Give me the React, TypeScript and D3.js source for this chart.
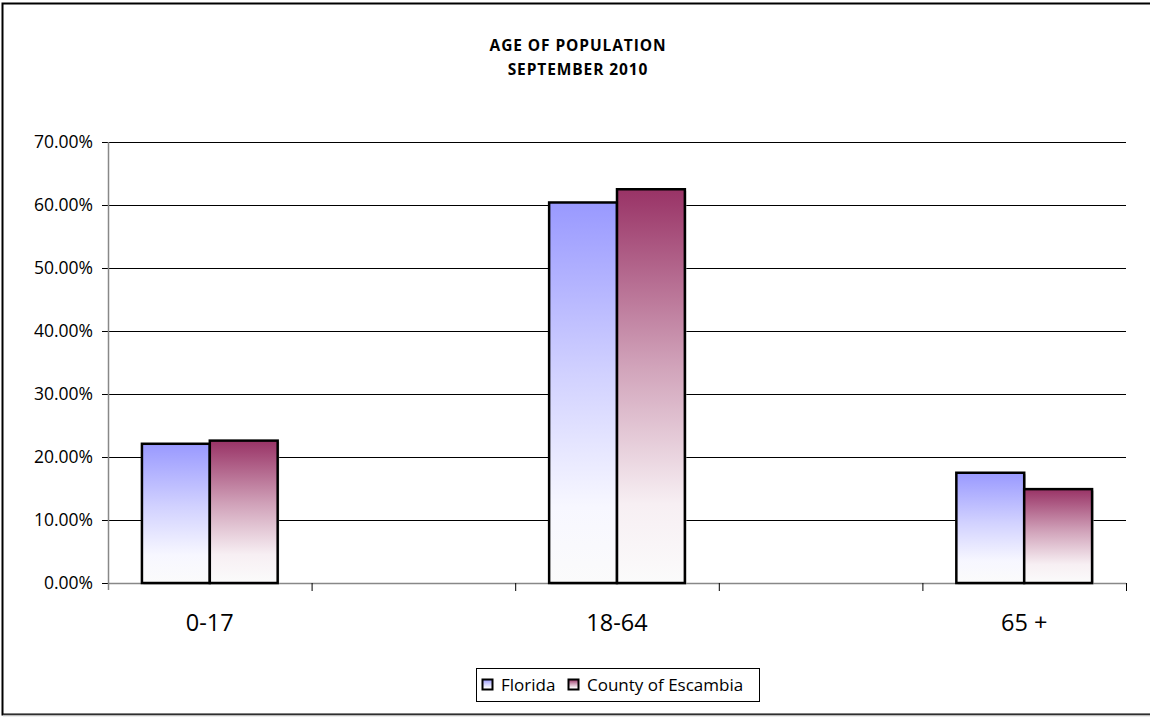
import React from "react";
import * as d3 from "d3";

// Age groups, with blank slots between them on the category axis
const categories = ["0-17", "gap1", "18-64", "gap2", "65 +"];
const ageGroups = ["0-17", "18-64", "65 +"];
const seriesNames = ["Florida", "County of Escambia"];
const floridaValues = [22.1, 60.4, 17.5];
const escambiaValues = [22.6, 62.5, 14.9];
const yTicks = [0, 10, 20, 30, 40, 50, 60, 70];
const titleLines = ["AGE OF POPULATION", "SEPTEMBER 2010"];

const seriesColors = ["#9999FF", "#993366"];
const FONT = "'Open Sans', 'Liberation Sans', sans-serif";

export default function App() {
  const W = 1150;
  const H = 717;
  const left = 108;
  const right = 1126;
  const top = 142;
  const bottom = 583;

  const x = d3.scaleBand().domain(categories).range([left, right]).paddingInner(0).paddingOuter(0);
  const y = d3.scaleLinear().domain([0, 70]).range([bottom, top]);
  const bw = x.bandwidth();
  const barW = bw / 3;

  const series = [floridaValues, escambiaValues];

  return (
    <svg
      width={W}
      height={H}
      style={{ position: "absolute", left: 0, top: 0, background: "#fff", fontFamily: FONT }}
    >
      <defs>
        {seriesColors.map((c, i) => (
          <linearGradient key={i} id={`grad${i}`} x1="0" y1="0" x2="0" y2="1">
            <stop offset="0" stopColor={c} />
            <stop offset="0.45" stopColor={d3.interpolateRgb(c, "#ffffff")(0.55)} />
            <stop offset="0.8" stopColor={d3.interpolateRgb(c, "#ffffff")(0.92)} />
            <stop offset="1" stopColor="#fbfbfb" />
          </linearGradient>
        ))}
      </defs>

      {/* chart frame */}
      <rect x={2.5} y={3.5} width={W + 10} height={711} fill="none" stroke="#000" strokeWidth={2} />
      <line x1={3} x2={W} y1={715.5} y2={715.5} stroke="#bbb" strokeWidth={1.5} />

      {/* title */}
      {titleLines.map((t, i) => (
        <text
          key={t}
          x={578}
          y={51 + i * 24}
          textAnchor="middle"
          style={{ fontSize: "15.5px", fontWeight: 700, letterSpacing: "0.9px" }}
          fill="#000"
        >
          {t}
        </text>
      ))}

      {/* gridlines and y labels */}
      {yTicks.map((v) => (
        <g key={v}>
          <line x1={left - 6} x2={v === 0 ? left : right} y1={y(v) + 0.5} y2={y(v) + 0.5} stroke="#000" strokeWidth={1} />
          <text x={93} y={y(v) + 6} textAnchor="end" style={{ fontSize: "17.5px" }} fill="#000">
            {v.toFixed(2)}%
          </text>
        </g>
      ))}

      {/* axes */}
      <line x1={left + 0.5} x2={left + 0.5} y1={top} y2={bottom + 7} stroke="#888" strokeWidth={1.5} />
      <line x1={left} x2={right} y1={bottom + 0.5} y2={bottom + 0.5} stroke="#888" strokeWidth={1.5} />
      {categories.map((c) => (
        <line key={c} x1={(x(c) as number) + bw + 0.5} x2={(x(c) as number) + bw + 0.5} y1={bottom} y2={bottom + 8} stroke="#000" strokeWidth={1} />
      ))}

      {/* bars */}
      {ageGroups.map((g, gi) =>
        series.map((vals, si) => {
          const x0 = (x(g) as number) + barW / 2 + si * barW;
          const yTop = y(vals[gi]);
          return (
            <g key={`${g}-${si}`}>
              <rect x={x0 + 1.5} y={yTop + 1.5} width={barW} height={bottom - yTop} fill="#bbb" />
              <rect
                x={x0}
                y={yTop}
                width={barW}
                height={bottom - yTop}
                fill={`url(#grad${si})`}
                stroke="#000"
                strokeWidth={2.5}
              />
            </g>
          );
        })
      )}

      {/* x labels */}
      {ageGroups.map((g) => (
        <text key={g} x={(x(g) as number) + bw / 2} y={631} textAnchor="middle" style={{ fontSize: "23.5px" }} fill="#000">
          {g}
        </text>
      ))}

      {/* legend */}
      <rect x={476.5} y={668.5} width={283} height={33} fill="#fff" stroke="#000" strokeWidth={1} />
      {seriesNames.map((n, i) => {
        const lx = i === 0 ? 482 : 568;
        return (
          <g key={n}>
            <rect x={lx + 0.5} y={679.5} width={10} height={10} fill={`url(#grad${i})`} stroke="#000" strokeWidth={2} />
            <text x={lx + 19} y={691} style={{ fontSize: "17px" }} fill="#000">
              {n}
            </text>
          </g>
        );
      })}
    </svg>
  );
}
